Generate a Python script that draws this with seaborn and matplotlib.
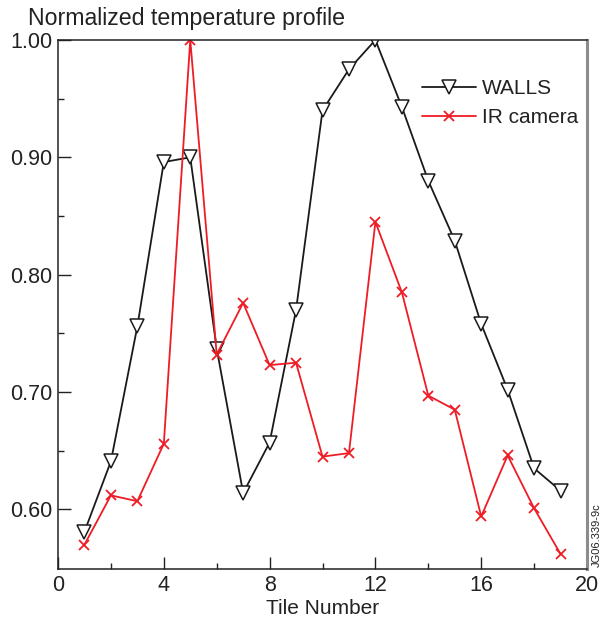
import matplotlib
matplotlib.use("Agg")
import matplotlib.pyplot as plt
import seaborn as sns
import pandas as pd
from matplotlib.ticker import FixedLocator

tiles = list(range(1, 20))
walls = [0.581, 0.641, 0.756, 0.896, 0.900, 0.737, 0.614, 0.657, 0.770, 0.940,
         0.975, 1.000, 0.943, 0.880, 0.829, 0.758, 0.702, 0.635, 0.616]
ir_camera = [0.570, 0.612, 0.607, 0.656, 1.000, 0.732, 0.776, 0.723, 0.725, 0.645,
             0.648, 0.845, 0.785, 0.697, 0.685, 0.594, 0.646, 0.601, 0.562]
x_ticks = [0, 4, 8, 12, 16, 20]
x_minor = [2, 6, 10, 14, 18]
y_ticks = [0.60, 0.70, 0.80, 0.90, 1.00]
y_tick_labels = ["0.60", "0.70", "0.80", "0.90", "1.00"]
y_minor = [0.65, 0.75, 0.85, 0.95]

sns.set_theme(style="white")
plt.rcParams['font.family'] = ['Liberation Sans', 'DejaVu Sans']

df = pd.DataFrame({"tile": tiles, "walls": walls, "ir": ir_camera})

fig = plt.figure(figsize=(6.10, 6.18), dpi=100)
ax = fig.add_axes([0.0951, 0.0788, 0.8672, 0.8565])

sns.lineplot(data=df, x="tile", y="walls", ax=ax, color="#1a1a1a", lw=1.3,
             marker="v", markersize=10, markerfacecolor="white",
             markeredgecolor="#1a1a1a", markeredgewidth=1.1, label="WALLS")
sns.lineplot(data=df, x="tile", y="ir", ax=ax, color="#ee1c25", lw=1.3,
             marker="x", markersize=7, markeredgewidth=1.3,
             markeredgecolor="#ee1c25", label="IR camera")

ax.set_xlim(0, 20)
ax.set_ylim(0.549, 1.0)
ax.set_xticks(x_ticks)
ax.set_xticklabels([str(t) for t in x_ticks])
ax.xaxis.set_minor_locator(FixedLocator(x_minor))
ax.set_yticks(y_ticks)
ax.set_yticklabels(y_tick_labels)
ax.yaxis.set_minor_locator(FixedLocator(y_minor))
ax.tick_params(axis="both", which="major", direction="in", length=9, width=1,
               color="#222222", labelsize=15.5, labelcolor="#222222",
               bottom=True, left=True, top=False, right=False, pad=4)
ax.tick_params(axis="both", which="minor", direction="in", length=4.5, width=1,
               color="#222222", bottom=True, left=True, top=False, right=False)

for s in ["left", "bottom", "top"]:
    ax.spines[s].set_color("#222222")
    ax.spines[s].set_linewidth(1.1)
ax.spines["right"].set_color("#8c8c8c")
ax.spines["right"].set_linewidth(2.2)

ax.set_xlabel("Tile Number", fontsize=15, color="#222222", labelpad=2)
ax.set_ylabel("")
fig.text(0.046, 0.952, "Normalized temperature profile", fontsize=16.7,
         color="#222222", ha="left", va="bottom")
fig.text(0.978, 0.082, "JG06.339-9c", fontsize=8, rotation=90,
         color="#222222", ha="center", va="bottom")

leg = ax.legend(loc="upper right", bbox_to_anchor=(1.011, 0.953), frameon=False,
                fontsize=15, handlelength=2.6, handletextpad=0.3,
                labelspacing=0.45, borderaxespad=0.3)
for t in leg.get_texts():
    t.set_color("#222222")

fig.savefig("out.png", dpi=100)
